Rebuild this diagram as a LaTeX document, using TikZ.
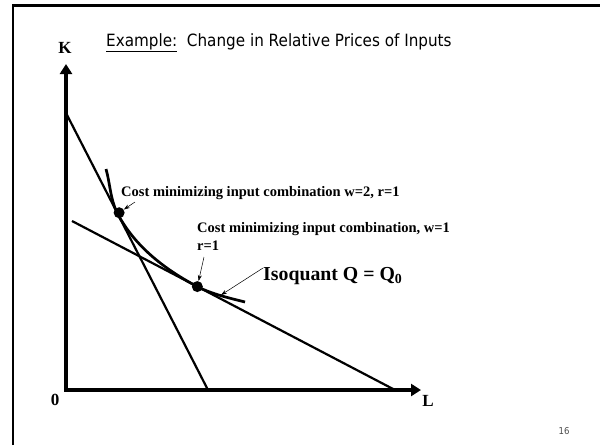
\documentclass[tikz,border=0pt]{standalone}
\usepackage{fontspec}
\setmainfont{Liberation Serif}
\newfontfamily\titlefont[FakeStretch=0.9]{DejaVu Sans}
\usetikzlibrary{arrows.meta,calc}
\begin{document}
\begin{tikzpicture}[x=1pt,y=-1pt,
  axis/.style={line width=3.7pt,line join=miter,{Triangle[length=10pt,width=12pt]}-{Triangle[length=10pt,width=12pt]}},
  budget/.style={line width=2.2pt},
  isoq/.style={line width=2.7pt},
  dotnode/.style={circle,fill=black,inner sep=0pt,minimum size=11pt},
  lbl/.style={font=\fontsize{14.5}{18}\selectfont\bfseries,inner sep=0pt,align=left},
  pointer/.style={line width=0.5pt,-{Stealth[length=6pt,width=4pt]}},
  axlabel/.style={font=\fontsize{17}{19}\selectfont\bfseries,inner sep=0pt},
  titletext/.style={font=\titlefont\fontsize{16.9}{19}\selectfont,inner sep=0pt},
  pagenum/.style={font=\titlefont\fontsize{9.5}{10}\selectfont,text=black!70,inner sep=0pt}
]
\useasboundingbox (0,0) rectangle (600,445);
% slide frame
\draw[line width=2.5pt] (13,445) -- (13,5.5) -- (600,5.5);
% title
\node[titletext,anchor=base west] (title) at (106,46.7) {\underline{Example:}\ \ Change in Relative Prices of Inputs};
% axes
\coordinate (O) at (66,390);
\coordinate (Ktip) at (66,64);
\coordinate (Ltip) at (421,390);
\draw[axis] (Ktip) -- (O) -- (Ltip);
\node[axlabel] (K) at (65,48) {K};
\node[axlabel] (L) at (428,401) {L};
\node[axlabel] (zero) at (55,400) {0};
% budget lines
\coordinate (k1) at (66,113);
\coordinate (l1) at (208,390);
\coordinate (k2) at (72,221);
\coordinate (l2) at (395,390);
\draw[budget] (k1) -- (l1);
\draw[budget] (k2) -- (l2);
% tangency points
\coordinate (T1) at ($(k1)!0.36!(l1)$);
\coordinate (T2) at ($(k2)!0.388!(l2)$);
% isoquant
\coordinate (Qs) at (106,169);
\coordinate (Qe) at (245,302);
\draw[isoq] (Qs) .. controls (110.1,183.4) and (110.3,199.3) .. (T1)
  .. controls (132,241.7) and (158.7,266.3) .. (T2)
  .. controls (211.5,294.0) and (229.5,298.1) .. (Qe);
\node[dotnode] (d1) at ($(T1)+(2,0)$) {};
\node[dotnode] (d2) at (T2) {};
% labels
\node[lbl,anchor=base west] (lab1) at (121,196.5) {Cost minimizing input combination w=2, r=1};
\node[lbl,anchor=north west] (lab2) at (197,222) {Cost minimizing input combination, w=1\\r=1};
\node[font=\fontsize{19.8}{22}\selectfont\bfseries,inner sep=0pt,anchor=base west] (lab3) at (263,280) {Isoquant Q = Q\textsubscript{0}};
% pointers
\coordinate (p1) at (135,202);
\coordinate (p2) at (204,257);
\coordinate (p3) at (263,268);
\coordinate (p3e) at (221,295);
\draw[pointer] (p1) -- (d1);
\draw[pointer] (p2) -- (d2);
\draw[pointer] (p3) -- (p3e);
% page number
\node[pagenum] (num) at (564,431) {16};
\end{tikzpicture}
\end{document}
